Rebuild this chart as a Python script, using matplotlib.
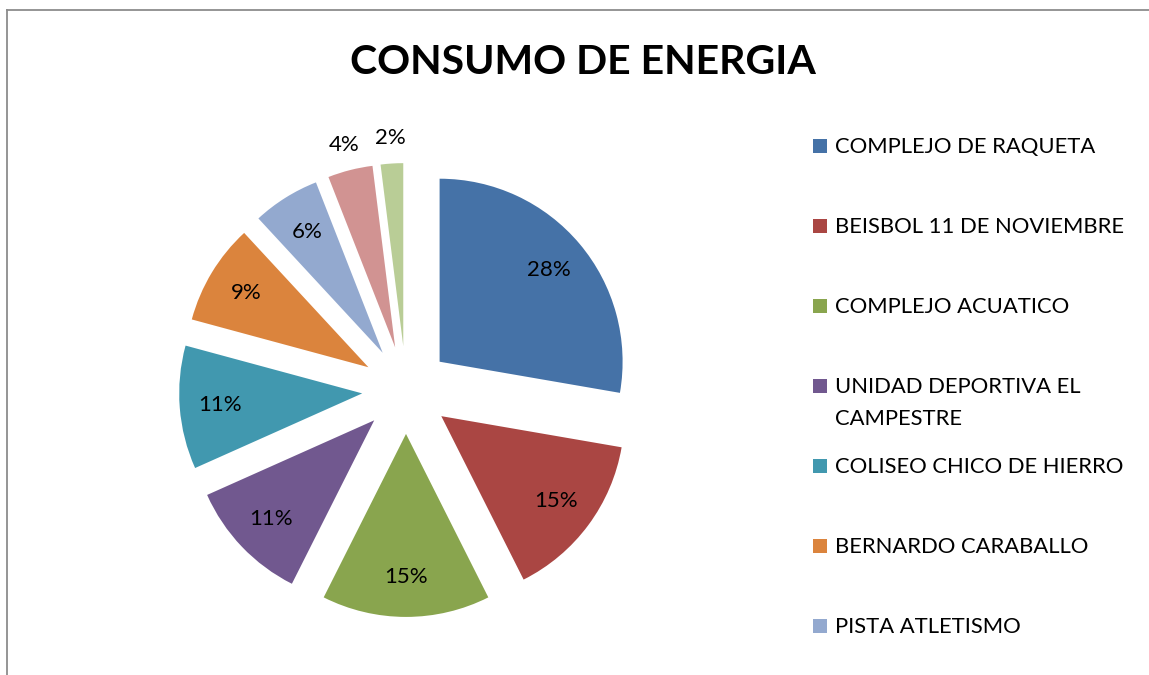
import matplotlib
matplotlib.use("Agg")
import matplotlib.pyplot as plt
from matplotlib.patches import Rectangle
from matplotlib.lines import Line2D
import numpy as np

categories = ["COMPLEJO DE RAQUETA", "BEISBOL 11 DE NOVIEMBRE", "COMPLEJO ACUATICO",
              "UNIDAD DEPORTIVA EL\nCAMPESTRE", "COLISEO CHICO DE HIERRO",
              "BERNARDO CARABALLO", "PISTA ATLETISMO", "OTRO 1", "OTRO 2"]
values = [28, 15, 15, 11, 11, 9, 6, 4, 2]
colors = ["#4572A7", "#AA4643", "#89A54E", "#71588F", "#4198AF",
          "#DB843D", "#93A9CF", "#D19392", "#B9CD96"]
n_legend_visible = 7

plt.rcParams['font.family'] = ['Lato', 'DejaVu Sans']

W, H = 1149, 675
fig = plt.figure(figsize=(W / 100, H / 100), dpi=100)

# border (top and left)
fig.add_artist(Line2D([7 / W, 7 / W], [0, 1 - 10 / H], transform=fig.transFigure, color="#8c8c8c", lw=1.3))
fig.add_artist(Line2D([7 / W, 1], [1 - 10 / H, 1 - 10 / H], transform=fig.transFigure, color="#8c8c8c", lw=1.3))

cx, cy, S = 406, H - 390, 274.5
ax = fig.add_axes([(cx - S) / W, (cy - S) / H, 2 * S / W, 2 * S / H])

explode = [0.24] * len(values)
wedges, _ = ax.pie(values, colors=colors, startangle=90, counterclock=False,
                   explode=explode, radius=1.0,
                   wedgeprops=dict(linewidth=0))
ax.set_xlim(-1.5, 1.5)
ax.set_ylim(-1.5, 1.5)
ax.set_aspect("equal")
ax.axis("off")

total = sum(values)
for w, v in zip(wedges, values):
    ang = np.deg2rad((w.theta1 + w.theta2) / 2)
    cxw, cyw = w.center
    d = 0.78 if v >= 6 else 1.14
    ax.text(cxw + d * np.cos(ang), cyw + d * np.sin(ang), f"{v}%",
            ha="center", va="center", fontsize=16, color="black")

fig.text(583 / W, 1 - 62 / H, "CONSUMO DE ENERGIA", ha="center", va="center",
         fontsize=29.5, fontweight="bold")

# legend (only the entries that fit in the visible area)
y0 = 146
for i, (cat, col) in enumerate(zip(categories[:n_legend_visible], colors)):
    y = y0 + 80 * i
    fig.add_artist(Rectangle((813 / W, 1 - (y + 7) / H), 14 / W, 14 / H,
                             transform=fig.transFigure, color=col, lw=0))
    fig.text(835 / W, 1 - (y - 9) / H, cat, ha="left", va="top",
             fontsize=15.8, linespacing=1.75)

fig.savefig("out.png", dpi=100)
